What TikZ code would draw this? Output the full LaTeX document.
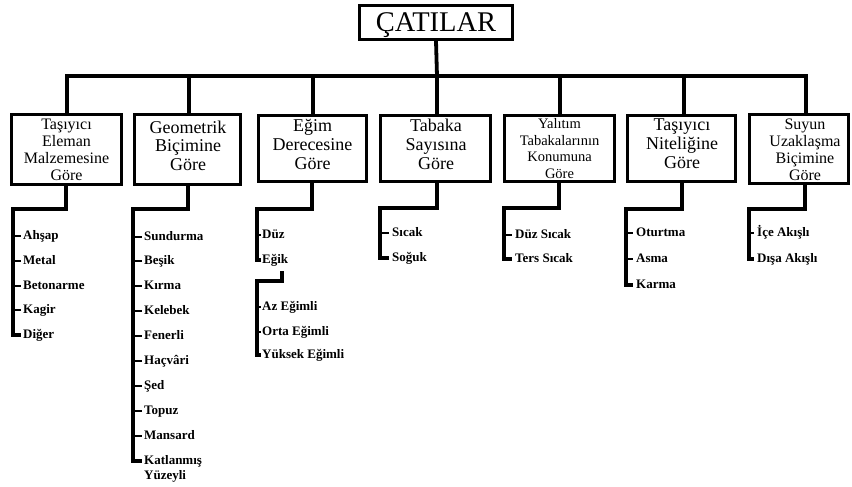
\documentclass[tikz,border=0pt]{standalone}
\usepackage{fontspec}
\setmainfont{Liberation Serif}
\usetikzlibrary{calc}
\begin{document}
\begin{tikzpicture}[x=1pt,y=-1pt,
  catbox/.style={draw, line width=3.5pt, inner sep=0pt},
  titlebox/.style={draw, line width=3pt, inner sep=0pt, minimum width=153pt, minimum height=34pt,
     font=\fontsize{28.5}{30}\selectfont, text height=19pt, text depth=1pt},
  lbl/.style={align=center, inner sep=0pt},
  item/.style={anchor=west, inner sep=0pt, text height=9pt, text depth=2pt,
     font=\bfseries\fontsize{13}{15}\selectfont},
  conn/.style={line width=3.8pt, line join=miter},
  listline/.style={line width=3.3pt, line join=miter},
  tick/.style={line width=2.6pt}]
\fill[white] (0,0) rectangle (852,487);
\useasboundingbox (0,0) rectangle (852,487);

% title
\node[titlebox] (top) at (436,22.5) {ÇATILAR};

% category boxes
\node[catbox, minimum width=110pt, minimum height=70pt] (b1) at (66.5,149.5) {};
\node[catbox, minimum width=106pt, minimum height=70pt] (b2) at (187.5,149.5) {};
\node[catbox, minimum width=108pt, minimum height=66pt] (b3) at (312.5,148.5) {};
\node[catbox, minimum width=110pt, minimum height=66pt] (b4) at (435.5,148.5) {};
\node[catbox, minimum width=110pt, minimum height=66pt] (b5) at (559.5,148.5) {};
\node[catbox, minimum width=108pt, minimum height=66pt] (b6) at (681.5,148.5) {};
\node[catbox, minimum width=99pt, minimum height=69pt] (b7) at (799,149) {};

\node[lbl, font=\fontsize{16}{17}\selectfont] (t1) at (66.5,150) {Taşıyıcı\\Eleman\\Malzemesine\\Göre};
\node[lbl, font=\fontsize{18}{18.5}\selectfont] (t2) at (188,145.5) {Geometrik\\Biçimine\\Göre};
\node[lbl, font=\fontsize{18}{19}\selectfont] (t3) at (312.5,144) {Eğim\\Derecesine\\Göre};
\node[lbl, font=\fontsize{18}{19}\selectfont] (t4) at (436,144) {Tabaka\\Sayısına\\Göre};
\node[lbl, font=\fontsize{14.5}{16.5}\selectfont] (t5) at (559.5,148.5) {Yalıtım\\Tabakalarının\\Konumuna\\Göre};
\node[lbl, font=\fontsize{16}{17}\selectfont] (t7) at (805,150) {Suyun\\Uzaklaşma\\Biçimine\\Göre};
\node[lbl, font=\fontsize{18}{19}\selectfont] (t6) at (682,144) {Taşıyıcı\\Niteliğine\\Göre};

% top connectors
\coordinate (hub) at (437,76);
\draw[conn] (top.south) -- (hub);
\foreach \x [count=\n] in {67,189,313,437,560,684,806} \coordinate (d\n) at (\x,76);
\draw[conn] (d1 |- b1.north) -- (d1) -- (d7) -- (d7 |- b7.north);
\foreach \n in {2,...,6} \draw[conn] (d\n) -- (d\n |- b\n.north);

% list anchors
\coordinate (u1) at (66,209);  \coordinate (k1) at (13,209);
\coordinate (u2) at (188,209); \coordinate (k2) at (133,209);
\coordinate (u3) at (312,209); \coordinate (k3) at (257,209);
\coordinate (u4) at (437,208); \coordinate (k4) at (380,208);
\coordinate (u5) at (559,208); \coordinate (k5) at (504,208);
\coordinate (u6) at (682,209); \coordinate (k6) at (626,209);
\coordinate (u7) at (805,209); \coordinate (k7) at (749,209);

% column 1
\foreach \lab/\y [count=\n] in {Ahşap/236,Metal/261,Betonarme/286,Kagir/310,Diğer/335}
  \node[item] (a\n) at (23,\y) {\lab};
\foreach \n in {1,...,4} \draw[tick] (k1 |- a\n.west) -- ([xshift=-2.5pt]a\n.west);
\draw[listline] (u1 |- b1.south) -- (u1) -- (k1) |- ([xshift=-2.5pt]a5.west);

% column 2
\foreach \lab/\y [count=\n] in {Sundurma/237,Beşik/261,Kırma/286,Kelebek/311,Fenerli/336,Haçvâri/361,Şed/386,Topuz/411,Mansard/436}
  \node[item] (g\n) at (144,\y) {\lab};
\node[anchor=north west, align=left, inner sep=0pt, font=\bfseries\fontsize{13}{15}\selectfont] (g10) at (144,455.5) {Katlanmış\\Yüzeyli};
\foreach \n in {1,...,9} \draw[tick] (k2 |- g\n.west) -- ([xshift=-2.5pt]g\n.west);
\coordinate (g10L) at ($(g10.north west)+(-2.5,5.5)$);
\draw[listline] (u2 |- b2.south) -- (u2) -- (k2) |- (g10L);

% column 3
\foreach \lab/\y [count=\n] in {Düz/235,Eğik/260,Az Eğimli/307,Orta Eğimli/332,Yüksek Eğimli/355}
  \node[item] (e\n) at (262,\y) {\lab};
\foreach \n in {1,3,4} \draw[tick] (k3 |- e\n.west) -- ([xshift=-1pt]e\n.west);
\draw[listline] (u3 |- b3.south) -- (u3) -- (k3) |- ([xshift=-1pt]e2.west);
\coordinate (s3a) at (282,271);
\coordinate (s3b) at (257,281);
\draw[listline] (s3a) |- (s3b) |- ([xshift=-1pt]e5.west);

% column 4
\node[item] (f1) at (392,233) {Sıcak};
\node[item] (f2) at (392,258) {Soğuk};
\draw[tick] (k4 |- f1.west) -- ([xshift=-3pt]f1.west);
\draw[listline] (u4 |- b4.south) -- (u4) -- (k4) |- ([xshift=-3pt]f2.west);

% column 5
\node[item] (h1) at (515,235) {Düz Sıcak};
\node[item] (h2) at (515,259) {Ters Sıcak};
\draw[tick] (k5 |- h1.west) -- ([xshift=-3pt]h1.west);
\draw[listline] (u5 |- b5.south) -- (u5) -- (k5) |- ([xshift=-3pt]h2.west);

% column 6
\node[item] (m1) at (636,233) {Oturtma};
\node[item] (m2) at (636,259) {Asma};
\node[item] (m3) at (636,285) {Karma};
\foreach \n in {1,2} \draw[tick] (k6 |- m\n.west) -- ([xshift=-3pt]m\n.west);
\draw[listline] (u6 |- b6.south) -- (u6) -- (k6) |- ([xshift=-3pt]m3.west);

% column 7
\node[item] (p1) at (757,233) {İçe Akışlı};
\node[item] (p2) at (757,259) {Dışa Akışlı};
\draw[tick] (k7 |- p1.west) -- ([xshift=-3pt]p1.west);
\draw[listline] (u7 |- b7.south) -- (u7) -- (k7) |- ([xshift=-3pt]p2.west);
\end{tikzpicture}
\end{document}
